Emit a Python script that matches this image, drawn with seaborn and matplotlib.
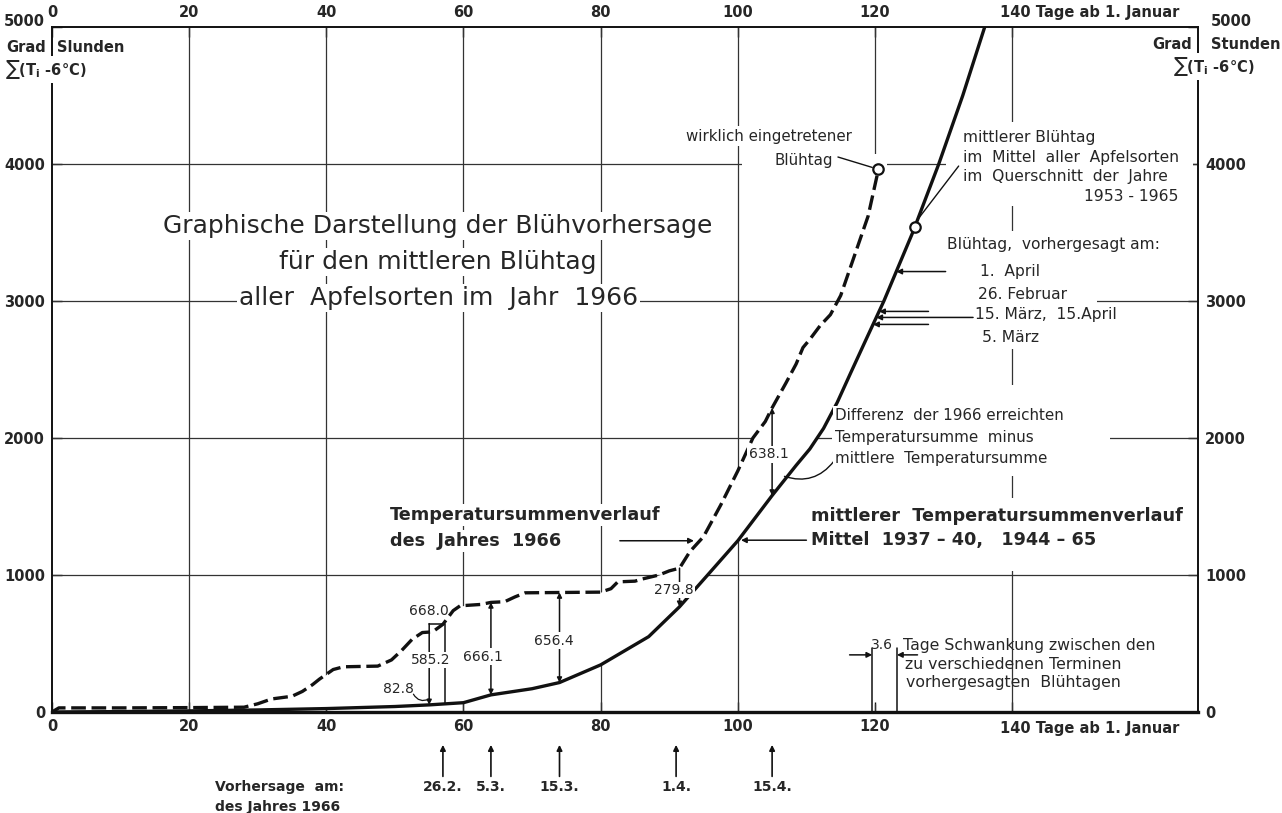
import numpy as np
import pandas as pd
import matplotlib
matplotlib.use("Agg")
import matplotlib.pyplot as plt
from matplotlib.patches import Rectangle
import seaborn as sns

# ---------------- data ----------------
days_1966 = [0, 1, 10, 20, 28, 30, 32, 35, 36.5, 38, 39, 41, 42.5, 47.5, 49.5, 51, 52.5, 54,
             55.5, 57, 58.5, 59.5, 62.5, 64, 66, 67.5, 69, 80, 81.5, 82.5, 85, 86, 88.5, 90,
             91.5, 93, 95, 97.5, 100, 102.2, 104, 105, 107, 108.5, 109.5, 110.5, 112, 113.5,
             115, 117, 119, 120.5]
temp_1966 = [0, 30, 30, 32, 35, 60, 95, 115, 150, 200, 240, 310, 330, 335, 380, 450, 530, 580,
             585, 640, 740, 775, 785, 800, 805, 840, 870, 875, 900, 950, 955, 970, 1000, 1030,
             1050, 1170, 1280, 1510, 1760, 2000, 2120, 2220, 2400, 2540, 2660, 2720, 2820, 2900,
             3040, 3330, 3620, 3960]

days_mean = [0, 10, 20, 30, 40, 50, 55, 60, 64, 70, 74, 80, 87, 91.5, 95.6, 100, 105, 108.5,
             110.5, 112.5, 114.5, 116.5, 118.8, 121.3, 125.5, 129.3, 132.8, 136]
temp_mean = [0, 3, 8, 15, 25, 40, 52, 68, 125, 170, 215, 344, 550, 768, 1000, 1250, 1580, 1800,
             1920, 2070, 2260, 2480, 2730, 3000, 3500, 4000, 4500, 5000]

bloom_actual_day = 120.5
bloom_mean_day = 125.8

forecast_days = [57, 64, 74, 91, 105]
forecast_labels = ["26.2.", "5.3.", "15.3.", "1.4.", "15.4."]

diff_days = [55, 64, 74, 91.5, 105]
diff_labels = ["585.2", "666.1", "656.4", "279.8", "638.1"]

forecast_bloom_values = [3215, 2924, 2880, 2829]   # 1. April, 26. Feb, 15. März/15. April, 5. März
spread_days = [119.6, 123.2]

x_ticks = [0, 20, 40, 60, 80, 100, 120, 140]
x_ticklabels = ["0", "20", "40", "60", "80", "100", "120", ""]
y_ticks = [0, 1000, 2000, 3000, 4000, 5000]
y_ticklabels = ["0", "1000", "2000", "3000", "4000", ""]

# ---------------- style ----------------
sns.set_style("white")
plt.rcParams["font.family"] = ["DejaVu Sans"]
plt.rcParams["mathtext.fontset"] = "dejavusans"

fig = plt.figure(figsize=(12.82, 8.13), dpi=100)
ax = fig.add_axes([0.04056, 0.12423, 0.89392, 0.84256])
ax.set_xlim(0, 167.1)
ax.set_ylim(0, 5000)

K = "#111111"
G = "#333333"
WB = dict(facecolor="white", edgecolor="none", pad=1.5)

# grid
for x in [20, 40, 60, 80, 100, 140]:
    ax.axvline(x, color=G, lw=0.9, zorder=1)
ax.plot([120, 120], [np.interp(120, days_1966, temp_1966) + 80, 5000], color=G, lw=0.9, zorder=1)
ax.plot([120, 120], [0, 60], color=G, lw=0.9, zorder=1)
for y in [1000, 2000, 3000, 4000]:
    ax.axhline(y, color=G, lw=0.9, zorder=1)

# white band between the two curves (grid is interrupted there)
xx = np.linspace(28, 112, 300)
ax.fill_between(xx, np.interp(xx, days_mean, temp_mean), np.interp(xx, days_1966, temp_1966),
                color="white", zorder=1.5, lw=0)
# masks behind text blocks (grid interrupted there in the original)
mask = dict(facecolor="white", edgecolor="none", zorder=1.6)
ax.add_patch(Rectangle((130.3, 3690), 36, 620, **mask))
ax.add_patch(Rectangle((121.2, 2650), 31.1, 860, **mask))
ax.add_patch(Rectangle((100.6, 3950), 21.2, 120, **mask))
ax.add_patch(Rectangle((113.8, 1720), 40.5, 670, **mask))
ax.add_patch(Rectangle((110.4, 1030), 55.5, 530, **mask))

# ---------------- curves ----------------
df66 = pd.DataFrame({"Tag": days_1966, "Summe": temp_1966})
dfm = pd.DataFrame({"Tag": days_mean, "Summe": temp_mean})
sns.lineplot(data=df66, x="Tag", y="Summe", ax=ax, color=K, lw=2.4, dashes=(4.4, 1.7),
             estimator=None, sort=False, zorder=4)
sns.lineplot(data=dfm, x="Tag", y="Summe", ax=ax, color=K, lw=2.4,
             estimator=None, sort=False, zorder=4)
ax.set_xlabel("")
ax.set_ylabel("")

# circles marking bloom days
ax.plot([bloom_actual_day], [np.interp(bloom_actual_day, days_1966, temp_1966)], "o",
        mfc="white", mec=K, mew=1.6, ms=7.5, zorder=6)
ax.plot([bloom_mean_day], [np.interp(bloom_mean_day, days_mean, temp_mean)], "o",
        mfc="white", mec=K, mew=1.6, ms=7.5, zorder=6)

# ---------------- axes / ticks ----------------
for s in ["left", "top", "right"]:
    ax.spines[s].set_linewidth(1.4)
    ax.spines[s].set_color(K)
ax.spines["bottom"].set_linewidth(2.4)
ax.spines["bottom"].set_color(K)

ax.set_xticks(x_ticks)
ax.set_xticklabels(x_ticklabels)
ax.set_xticks(np.arange(10, 167, 10), minor=True)
ax.set_yticks(y_ticks)
ax.set_yticklabels(y_ticklabels)
ax.set_yticks(np.arange(250, 5000, 250), minor=True)
ax.tick_params(axis="both", which="both", direction="in", color=K, width=1.0)
ax.tick_params(axis="both", which="major", length=7)
ax.tick_params(axis="both", which="minor", length=6)
ax.tick_params(axis="x", top=True, labeltop=True, bottom=True, labelbottom=True, pad=5)
ax.tick_params(axis="y", left=True, right=True, labelleft=True, labelright=True, pad=5)
for lab in ax.get_xticklabels() + ax.get_yticklabels():
    lab.set_fontsize(10.5)
    lab.set_fontweight("bold")

xt = ax.get_xaxis_transform()
ax.text(138.3, 1.021, "140 Tage ab 1. Januar", transform=xt, ha="left", va="center",
        fontsize=10.5, fontweight="bold", clip_on=False)
ax.text(138.3, -0.024, "140 Tage ab 1. Januar", transform=xt, ha="left", va="center",
        fontsize=10.5, fontweight="bold", clip_on=False)

# y axis heading labels (figure coords)
fs_ax = 10.5
fig.text(0.0351, 0.973, "5000", ha="right", va="center", fontsize=fs_ax, fontweight="bold")
fig.text(0.0356, 0.942, "Grad", ha="right", va="center", fontsize=fs_ax, fontweight="bold")
fig.text(0.0445, 0.942, "Slunden", ha="left", va="center", fontsize=fs_ax, fontweight="bold")
fig.text(0.004, 0.914, "∑(T$_{\\mathregular{i}}$ -6°C)", ha="left", va="center", fontsize=fs_ax,
         fontweight="bold", bbox=WB)
fig.text(0.9446, 0.973, "5000", ha="left", va="center", fontsize=fs_ax, fontweight="bold")
fig.text(0.9300, 0.945, "Grad", ha="right", va="center", fontsize=fs_ax, fontweight="bold")
fig.text(0.9445, 0.945, "Stunden", ha="left", va="center", fontsize=fs_ax, fontweight="bold")
fig.text(0.9150, 0.918, "∑(T$_{\\mathregular{i}}$ -6°C)", ha="left", va="center", fontsize=fs_ax,
         fontweight="bold", bbox=WB)

# ---------------- title ----------------
for yv, line in zip([3547, 3285, 3022], ["Graphische Darstellung der Blühvorhersage",
                                          "für den mittleren Blühtag",
                                          "aller  Apfelsorten im  Jahr  1966"]):
    ax.text(56.3, yv, line, ha="center", va="center", fontsize=18, bbox=WB, zorder=7)

# ---------------- annotations ----------------
fs_s = 11.2
ax.text(116.7, 4204, "wirklich eingetretener", ha="right", va="center", fontsize=10.8, bbox=WB, zorder=7)
ax.text(113.9, 4029, "Blühtag", ha="right", va="center", fontsize=10.8, bbox=WB, zorder=7)
ax.plot([114.6, 119.6], [4051, 3975], color=K, lw=1.0, zorder=5)

ax.text(132.9, 4197, "mittlerer Blühtag", ha="left", va="center", fontsize=fs_s, zorder=7)
ax.text(132.9, 4051, "im  Mittel  aller  Apfelsorten", ha="left", va="center", fontsize=fs_s, zorder=7)
ax.text(132.9, 3912, "im  Querschnitt  der  Jahre", ha="left", va="center", fontsize=fs_s, zorder=7)
ax.text(164.2, 3766, "1953 - 1965", ha="right", va="center", fontsize=fs_s, zorder=7)
ym = np.interp(bloom_mean_day, days_mean, temp_mean)
ax.plot([bloom_mean_day + 0.5, 132.2], [ym + 60, 3985], color=K, lw=1.0, zorder=5)

ax.text(130.5, 3416, "Blühtag,  vorhergesagt am:", ha="left", va="center", fontsize=fs_s, zorder=7)
ax.text(135.3, 3212, "1.  April", ha="left", va="center", fontsize=fs_s, zorder=7)
ax.text(135.0, 3051, "26. Februar", ha="left", va="center", fontsize=fs_s, zorder=7)
ax.text(134.6, 2898, "15. März,  15.April", ha="left", va="center", fontsize=fs_s, zorder=7)
ax.text(135.6, 2737, "5. März", ha="left", va="center", fontsize=fs_s, zorder=7)
arrow_kw = dict(arrowstyle="-|>", color=K, lw=1.1, shrinkA=0, shrinkB=0, mutation_scale=8)
tails = [130.3, 127.8, 134.3, 127.8]
for v, t in zip(forecast_bloom_values, tails):
    tip = np.interp(v, temp_mean, days_mean)
    ax.annotate("", xy=(tip, v), xytext=(t, v), arrowprops=arrow_kw, zorder=6)

fs_d = 10.9
ax.text(114.2, 2161, "Differenz  der 1966 erreichten", ha="left", va="center", fontsize=fs_d, bbox=WB, zorder=7)
ax.text(114.2, 2003, "Temperatursumme  minus", ha="left", va="center", fontsize=fs_d, bbox=WB, zorder=7)
ax.text(114.2, 1850, "mittlere  Temperatursumme", ha="left", va="center", fontsize=fs_d, bbox=WB, zorder=7)
ax.annotate("", xy=(106.8, 1720), xytext=(114.0, 1830),
            arrowprops=dict(arrowstyle="-", color=K, lw=1.0, connectionstyle="arc3,rad=-0.35",
                            shrinkA=0, shrinkB=0), zorder=6)

fs_b = 12.7
ax.text(49.3, 1440, "Temperatursummenverlauf", ha="left", va="center", fontsize=fs_b,
        fontweight="bold", bbox=WB, zorder=7)
ax.text(49.3, 1250, "des  Jahres  1966", ha="left", va="center", fontsize=fs_b,
        fontweight="bold", bbox=WB, zorder=7)
ax.annotate("", xy=(93.6, 1250), xytext=(82.8, 1250), arrowprops=arrow_kw, zorder=6)

ax.text(110.7, 1432, "mittlerer  Temperatursummenverlauf", ha="left", va="center", fontsize=fs_b,
        fontweight="bold", bbox=WB, zorder=7)
ax.text(110.7, 1254, "Mittel  1937 – 40,   1944 – 65", ha="left", va="center", fontsize=fs_b,
        fontweight="bold", bbox=WB, zorder=7)
ax.annotate("", xy=(np.interp(1254, temp_mean, days_mean) + 0.4, 1254), xytext=(110.0, 1254),
            arrowprops=arrow_kw, zorder=6)

# spread of forecast bloom days
for d in spread_days:
    ax.plot([d, d], [0, 470], color=K, lw=1.1, zorder=5)
ax.annotate("", xy=(spread_days[0], 417), xytext=(116.3, 417), arrowprops=arrow_kw, zorder=6)
ax.annotate("", xy=(spread_days[1], 417), xytext=(126.2, 417), arrowprops=arrow_kw, zorder=6)
ax.text(121.0, 489, "3.6", ha="center", va="center", fontsize=10, zorder=7)
ax.text(124.1, 489, "Tage Schwankung zwischen den", ha="left", va="center", fontsize=11.3, zorder=7)
ax.text(124.4, 350, "zu verschiedenen Terminen", ha="left", va="center", fontsize=11.3, zorder=7)
ax.text(124.5, 212, "vorhergesagten  Blühtagen", ha="left", va="center", fontsize=11.3, zorder=7)

# difference arrows between the curves
darrow = dict(arrowstyle="<|-|>", color=K, lw=1.1, shrinkA=0, shrinkB=0, mutation_scale=7)
darrow_down = dict(arrowstyle="-|>", color=K, lw=1.1, shrinkA=0, shrinkB=0, mutation_scale=7)
label_pos = [(55.2, 380), (62.9, 405), (73.2, 520), (90.6, 890), (104.5, 1880)]
for d, lab, (lx, ly) in zip(diff_days, diff_labels, label_pos):
    lo = np.interp(d, days_mean, temp_mean)
    if d == 55:
        hi = 645
        ax.annotate("", xy=(d, lo), xytext=(d, hi), arrowprops=darrow_down, zorder=6)
    elif d == 91.5:
        hi = np.interp(d, days_1966, temp_1966)
        ax.annotate("", xy=(d, lo), xytext=(d, hi), arrowprops=darrow_down, zorder=6)
    else:
        hi = np.interp(d, days_1966, temp_1966)
        ax.annotate("", xy=(d, lo), xytext=(d, hi), arrowprops=darrow, zorder=6)
    ax.text(lx, ly, lab, ha="center", va="center", fontsize=10,
            bbox=dict(facecolor="white", edgecolor="none", pad=1.0), zorder=7)
# bracket for 668.0
ax.plot([55, 57.3, 57.3], [645, 645, np.interp(57.3, days_mean, temp_mean)], color=K, lw=1.1, zorder=5)
ax.text(55.0, 735, "668.0", ha="center", va="center", fontsize=10, zorder=7)
ax.text(50.5, 165, "82.8", ha="center", va="center", fontsize=10, zorder=7)
ax.annotate("", xy=(55, 95), xytext=(52.7, 130),
            arrowprops=dict(arrowstyle="-", color=K, lw=0.9, connectionstyle="arc3,rad=0.45",
                            shrinkA=0, shrinkB=0), zorder=6)

# forecast date arrows below the axis
for d, lab in zip(forecast_days, forecast_labels):
    ax.annotate("", xy=(d, -0.048), xytext=(d, -0.094), xycoords=xt, textcoords=xt,
                arrowprops=dict(arrowstyle="-|>", color=K, lw=1.2, shrinkA=0, shrinkB=0,
                                mutation_scale=8), annotation_clip=False)
    ax.text(d, -0.110, lab, transform=xt, ha="center", va="center", fontsize=10,
            fontweight="bold", clip_on=False)
ax.text(23.8, -0.110, "Vorhersage  am:", transform=xt, ha="left", va="center", fontsize=10,
        fontweight="bold", clip_on=False)
ax.text(23.8, -0.138, "des Jahres 1966", transform=xt, ha="left", va="center", fontsize=10,
        fontweight="bold", clip_on=False)

fig.savefig("out.png", dpi=100, facecolor="white")
